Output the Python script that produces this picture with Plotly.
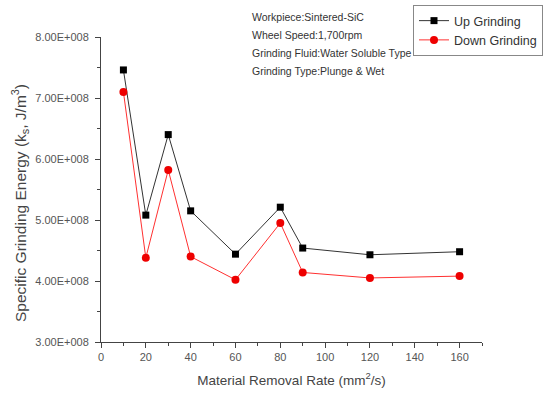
import plotly.graph_objects as go

x_rate = [10, 20, 30, 40, 60, 80, 90, 120, 160]
up_grinding = [7.46e8, 5.08e8, 6.40e8, 5.15e8, 4.44e8, 5.21e8, 4.54e8, 4.43e8, 4.48e8]
down_grinding = [7.10e8, 4.38e8, 5.82e8, 4.40e8, 4.02e8, 4.95e8, 4.14e8, 4.05e8, 4.08e8]
y_ticks = [3e8, 4e8, 5e8, 6e8, 7e8, 8e8]
y_ticktext = ["3.00E+008", "4.00E+008", "5.00E+008", "6.00E+008", "7.00E+008", "8.00E+008"]
x_ticks = [0, 20, 40, 60, 80, 100, 120, 140, 160]
notes = ["Workpiece:Sintered-SiC", "Wheel Speed:1,700rpm",
         "Grinding Fluid:Water Soluble Type", "Grinding Type:Plunge &amp; Wet"]
y_title = "Specific Grinding Energy (k<sub>s</sub>, J/m<sup>3</sup>)"
x_title = "Material Removal Rate (mm<sup>2</sup>/s)"

font_family = "Liberation Sans, Arial, sans-serif"
W, H = 552, 396
L, R, T, B = 101, 70, 37, 54
PW, PH = W - L - R, H - T - B

fig = go.Figure()
fig.add_trace(go.Scatter(x=x_rate, y=up_grinding, mode="lines+markers", name="Up Grinding",
                         line=dict(color="#333333", width=1),
                         marker=dict(symbol="square", size=7, color="black")))
fig.add_trace(go.Scatter(x=x_rate, y=down_grinding, mode="lines+markers", name="Down Grinding",
                         line=dict(color="#ff3030", width=1),
                         marker=dict(symbol="circle", size=8, color="#ee0000")))

for i, line in enumerate(notes):
    ypix = 17 + i * 18
    fig.add_annotation(xref="paper", yref="paper", x=(250 - L) / PW,
                       y=((H - B) - ypix) / PH,
                       xanchor="left", yanchor="middle", align="left", showarrow=False,
                       text=line,
                       font=dict(family=font_family, size=10.5, color="#333333"))

# y-axis title placed as rotated annotation to match reference position
fig.add_annotation(xref="paper", yref="paper", x=(20 - L) / PW, y=((H - B) - 203) / PH,
                   xanchor="center", yanchor="middle", textangle=-90, showarrow=False,
                   text=y_title, font=dict(family=font_family, size=15.5, color="#444444"))

axis_common = dict(showline=True, linecolor="#444444", linewidth=1, ticks="outside",
                   ticklen=5, tickcolor="#444444", showgrid=False, zeroline=False,
                   tickfont=dict(family=font_family, size=11, color="#555555"),
                   mirror=False)

fig.update_xaxes(range=[0, 170], tickmode="array", tickvals=x_ticks,
                 title=dict(text=x_title,
                            font=dict(family=font_family, size=13.5, color="#444444"), standoff=13),
                 minor=dict(ticks="outside", ticklen=3, dtick=10, tick0=0, tickcolor="#444444"),
                 **axis_common)
fig.update_yaxes(range=[3e8, 8e8], tickmode="array", tickvals=y_ticks, ticktext=y_ticktext,
                 ticklabelstandoff=4,
                 minor=dict(ticks="outside", ticklen=3, dtick=5e7, tick0=0, tickcolor="#444444"),
                 **axis_common)

fig.update_layout(
    width=W, height=H,
    margin=dict(l=L, r=R, t=T, b=B, autoexpand=False),
    plot_bgcolor="white", paper_bgcolor="white",
    showlegend=True,
    legend=dict(xref="container", yref="container", x=413 / W, y=1 - 5 / H,
                xanchor="left", yanchor="top", bordercolor="#888888", borderwidth=1,
                bgcolor="white", font=dict(family=font_family, size=12.5, color="#333333"),
                tracegroupgap=0, itemwidth=30),
)

fig.write_html("out.html")
